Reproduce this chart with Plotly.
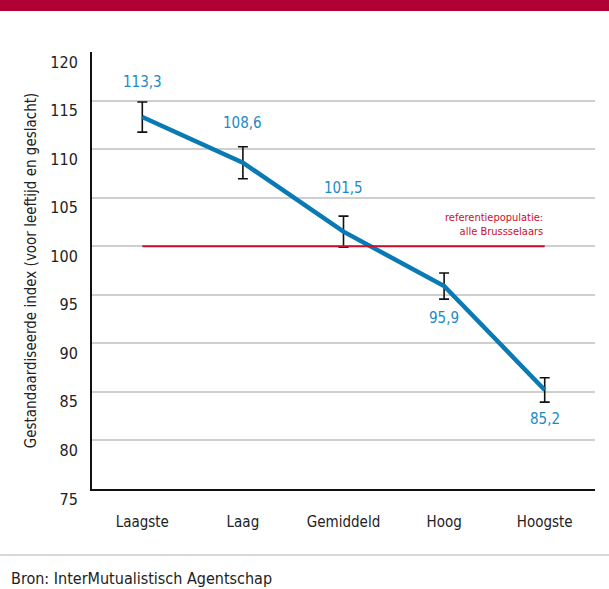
import plotly.graph_objects as go

categories = ["Laagste", "Laag", "Gemiddeld", "Hoog", "Hoogste"]
values = [113.3, 108.6, 101.5, 95.9, 85.2]
err = [1.55, 1.65, 1.6, 1.35, 1.25]
labels = ["113,3", "108,6", "101,5", "95,9", "85,2"]
reference = 100
y_ticks = [75, 80, 85, 90, 95, 100, 105, 110, 115, 120]

# pixel offsets of value labels (label centre relative to point)
label_shift = [35, 40, 44, -32, -29]

FONT = "DejaVu Sans Condensed, Liberation Sans Narrow, Roboto, sans-serif"
BLUE = "#0a7ab5"
LBLUE = "#1b8ac6"
RED = "#c8102e"

fig = go.Figure()

fig.add_trace(go.Scatter(
    x=categories, y=values, mode="lines",
    line=dict(color=BLUE, width=4.5),
    error_y=dict(type="data", array=err, color="#111111", thickness=1.6, width=5),
    showlegend=False))

# reference line
fig.add_trace(go.Scatter(
    x=[categories[0], categories[-1]], y=[reference, reference],
    mode="lines", line=dict(color=RED, width=2), hoverinfo="skip", showlegend=False))

for c, v, t, s in zip(categories, values, labels, label_shift):
    fig.add_annotation(
        x=c, y=v, xref="x", yref="y", yanchor="middle", yshift=s,
        text=t, showarrow=False,
        font=dict(family=FONT, size=15, color=LBLUE))

fig.add_annotation(
    x=categories[-1], y=reference, xref="x", yref="y", xanchor="right", yanchor="bottom", yshift=6,
    text="referentiepopulatie:<br>alle Brussselaars", showarrow=False, align="right",
    font=dict(family=FONT, size=11, color=RED))

# top banner
fig.add_shape(type="rect", xref="paper", yref="paper", x0=-0.2, x1=1.1,
              y0=1.094, y1=1.2, fillcolor="#b00034", line=dict(width=0), layer="above")
# bottom separator
fig.add_shape(type="line", xref="paper", yref="paper", x0=-0.2, x1=1.1,
              y0=-0.151, y1=-0.151, line=dict(color="#cccccc", width=1.5))
fig.add_annotation(
    x=-0.165, y=-0.204, xref="paper", yref="paper", xanchor="left", yanchor="middle",
    text="Bron: InterMutualistisch Agentschap", showarrow=False,
    font=dict(family=FONT, size=16, color="#222222"))

fig.update_layout(
    width=609, height=589,
    margin=dict(l=92, r=14, t=52, b=100),
    paper_bgcolor="white", plot_bgcolor="white",
    font=dict(family=FONT, color="#222222"),
)
fig.update_xaxes(
    type="category", categoryorder="array", categoryarray=categories, range=[-0.5, 4.5],
    showline=True, linecolor="#111111", linewidth=2, automargin=False,
    showgrid=False, ticks="", ticklabelstandoff=18,
    tickfont=dict(family=FONT, size=15, color="#222222"))
fig.update_yaxes(
    range=[75, 120], tickvals=y_ticks, automargin=False,
    showline=True, linecolor="#111111", linewidth=2,
    showgrid=True, gridcolor="#cfcfcf", gridwidth=1.5, zeroline=False,
    ticks="", ticklabelshift=10, ticklabelstandoff=9,
    tickfont=dict(family=FONT, size=16, color="#222222"),
    title=dict(text="Gestandaardiseerde index (voor leeftijd en geslacht)",
               font=dict(family=FONT, size=15, color="#222222"), standoff=10))

fig.write_html("out.html", config={"displayModeBar": False},
               post_script="document.body.style.margin='0px';")
